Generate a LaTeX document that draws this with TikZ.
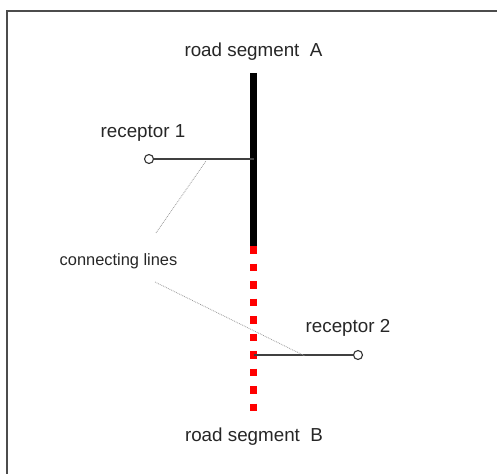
\documentclass[tikz,border=0pt]{standalone}
\usepackage{fontspec}
\setmainfont{Liberation Sans}
\begin{document}
\begin{tikzpicture}[x=1pt,y=-1pt,
  lbl/.style={inner sep=0pt,font=\fontsize{18.8}{18.8}\selectfont,text=black!85},
  smalllbl/.style={inner sep=0pt,font=\fontsize{16.4}{16.4}\selectfont,text=black!85},
  recep/.style={circle,draw=black!80,fill=white,line width=1.1pt,minimum size=9pt,inner sep=0pt},
  link/.style={draw=black!75,line width=1.2pt},
  conn/.style={draw=black!40,line width=0.8pt,densely dotted}]
\useasboundingbox (0,0) rectangle (497,473);
% frame (right and bottom outside the picture)
\draw[black!70,line width=1.3pt] (7,480) -- (7,11) -- (505,11);
% road segments
\coordinate (aTop) at (253.5,73);
\coordinate (aBot) at (253.5,246);
\coordinate (bBot) at (253.5,412);
\coordinate (j1) at (253.5,159);
\coordinate (j2) at (253.5,355);
\draw[black,line width=6.5pt] (aTop) -- (aBot);
\draw[red,line width=7.5pt,dash pattern=on 7.5pt off 10pt] (aBot) -- (bBot);
% receptors
\node[recep] (r1) at (149,159) {};
\node[recep] (r2) at (358,355) {};
\draw[link] (r1) -- (j1);
\draw[link] (j2) -- (r2);
% connecting lines
\coordinate (c1a) at (156,233);
\coordinate (c1b) at (206,161);
\coordinate (c2a) at (155,282);
\coordinate (c2b) at (305,356);
\draw[conn] (c1a) -- (c1b);
\draw[conn] (c2a) -- (c2b);
% labels
\node[lbl] (la) at (253.5,52) {road segment\ \ A};
\node[lbl] (lb) at (254,437) {road segment\ \ B};
\node[lbl] (l1) at (143,133) {receptor 1};
\node[lbl] (l2) at (348,328) {receptor 2};
\node[smalllbl] (lc) at (118.5,261) {connecting lines};
\end{tikzpicture}
\end{document}
